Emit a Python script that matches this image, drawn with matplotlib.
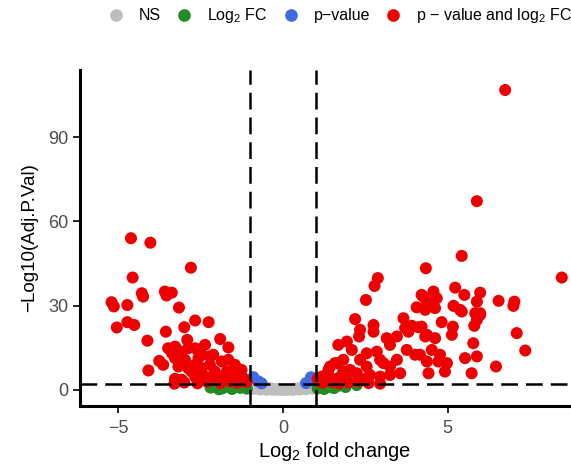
import matplotlib
matplotlib.use("Agg")
import matplotlib.pyplot as plt
from matplotlib.lines import Line2D

plt.rcParams["font.family"] = ["Liberation Sans", "DejaVu Sans"]
plt.rcParams["mathtext.fontset"] = "custom"
plt.rcParams["mathtext.rm"] = "Liberation Sans"
plt.rcParams["mathtext.it"] = "Liberation Sans:italic"

# === thresholds ===
FC_CUTOFF = 1.0
P_CUTOFF = 2.0

# === not significant (|log2FC| < 1, -log10 p < 2) ===
ns_x = [-0.98, -0.92, -0.88, -0.80, -0.75, -0.70, -0.64, -0.60, -0.55, -0.50,
        -0.45, -0.40, -0.35, -0.30, -0.25, -0.20, -0.15, -0.10, -0.05, 0.00,
        0.05, 0.10, 0.15, 0.20, 0.25, 0.30, 0.35, 0.40, 0.45, 0.50,
        0.55, 0.60, 0.65, 0.70, 0.75, 0.80, 0.85, 0.90, 0.95, 0.98,
        -0.90, -0.70, -0.50, -0.30, 0.30, 0.50, 0.70, 0.90, -0.95, 0.95]
ns_y = [1.9, 1.5, 1.2, 1.0, 0.8, 1.3, 0.6, 0.9, 0.5, 0.7,
        0.4, 0.3, 0.5, 0.2, 0.3, 0.1, 0.2, 0.1, 0.05, 0.0,
        0.1, 0.05, 0.2, 0.1, 0.3, 0.2, 0.4, 0.3, 0.5, 0.4,
        0.6, 0.8, 0.5, 1.0, 0.9, 1.2, 1.1, 1.5, 1.7, 1.9,
        0.3, 0.1, 0.0, 0.0, 0.0, 0.1, 0.2, 0.4, 0.8, 0.9]

# === fold change only ===
fc_x = [-2.20, -2.00, -1.85, -1.70, -1.55, -1.45, -1.30, -1.20, -1.10, -1.60,
        -1.95, -1.35, 1.12, 1.33, 1.53, 2.24, 1.05, 1.15, 1.25, 1.40,
        1.55, 1.70, 1.90, 1.30, 1.10]
fc_y = [0.8, 1.5, 0.5, 1.2, 0.3, 1.6, 0.7, 1.8, 0.4, 1.9,
        0.2, 1.1, 1.8, 1.9, 1.8, 1.7, 0.5, 1.2, 0.3, 1.0,
        0.6, 1.5, 1.0, 1.8, 1.6]

# === p-value only ===
p_x = [-0.90, -0.75, -0.65, 0.85, 0.92, 0.70]
p_y = [4.5, 3.0, 2.3, 4.5, 3.3, 2.4]

# === p-value and fold change ===
sig_x = [
    # down-regulated
    -4.62, -4.03, -2.80, -4.57, -4.29, -4.25, -3.59, -3.38, -3.54, -5.21,
    -5.14, -4.73, -3.16, -5.05, -4.73, -4.52, -2.67, -2.26, -3.56, -3.00,
    -4.12, -1.91, -1.66, -2.91, -4.09, -3.76, -3.64, -3.49, -3.28, -3.10,
    -2.88, -2.67, -2.37, -2.12, -3.28, -3.18, -2.98, -2.67, -2.78, -2.47,
    -2.22, -2.07, -1.86, -1.66, -1.71, -1.51, -1.31, -1.21, -3.28, -3.08,
    -2.67, -2.37, -2.07, -1.81, -2.47, -3.38, -2.57, -2.88, -1.46, -1.26,
    -2.22, -1.10, -1.25, -1.40, -1.60, -1.90, -2.30, -2.60, -3.00, -3.30,
    # up-regulated
    5.43, 4.34, 8.47, 2.88, 2.78, 2.52, 5.23, 5.99, 5.51, 4.21,
    4.57, 4.67, 4.37, 5.89, 6.55, 7.03, 7.00, 5.18, 5.38, 4.06,
    4.32, 5.99, 5.89, 2.19, 3.66, 4.82, 2.75, 2.75, 3.91, 4.11,
    3.81, 5.16, 5.13, 5.81, 7.10, 2.34, 2.31, 3.15, 3.46, 3.25,
    4.37, 4.62, 1.94, 1.68, 2.09, 5.78, 7.36, 2.54, 2.85, 2.95,
    3.76, 4.01, 4.52, 4.77, 5.53, 5.89, 4.37, 4.72, 4.98, 4.42,
    4.92, 5.73, 6.47, 2.34, 2.54, 3.05, 3.25, 3.46, 3.56, 1.43,
    1.63, 1.83, 2.04, 2.24, 2.64, 2.95, 3.25, 1.18, 1.38, 1.68,
    1.94, 2.44, 2.95, 1.58, 1.83, 1.38, 1.22, 3.71, 4.26, 4.62,
    5.43, 5.84, 5.99, 4.21, 4.32, 4.16, 1.10, 1.20, 1.35, 1.50,
    1.70, 2.00, 2.30, 2.60, 1.05, 5.89, 6.75,
]
sig_y = [
    # down-regulated
    54.0, 52.4, 43.5, 40.0, 34.4, 33.2, 35.0, 34.6, 33.6, 31.2,
    29.7, 30.2, 29.3, 22.2, 24.1, 23.1, 24.7, 24.1, 20.7, 22.3,
    17.5, 18.1, 15.1, 17.8, 6.9, 10.3, 8.9, 14.8, 15.4, 13.6,
    14.8, 14.8, 16.0, 12.5, 11.3, 8.3, 10.7, 8.9, 6.5, 7.7,
    8.9, 6.5, 10.1, 10.7, 6.5, 5.3, 5.9, 4.2, 3.9, 3.6,
    4.7, 4.7, 4.7, 4.2, 12.5, 13.1, 11.3, 7.7, 8.9, 7.1,
    11.9, 2.8, 3.3, 2.5, 3.0, 2.4, 2.9, 2.3, 2.6, 2.2,
    # up-regulated
    47.7, 43.3, 40.0, 39.8, 37.0, 32.0, 36.4, 34.6, 33.8, 33.8,
    35.0, 32.6, 31.4, 31.4, 31.7, 31.4, 29.9, 29.9, 28.5, 29.4,
    28.5, 26.7, 24.9, 25.2, 25.5, 24.1, 23.1, 20.7, 22.8, 22.3,
    20.7, 22.5, 19.6, 22.8, 20.2, 21.4, 19.0, 18.4, 19.0, 16.0,
    19.6, 18.4, 17.2, 16.0, 14.2, 16.6, 14.0, 13.0, 13.6, 10.7,
    14.2, 12.5, 14.2, 12.5, 11.3, 11.9, 10.1, 10.1, 9.5, 5.9,
    6.5, 5.9, 8.3, 10.7, 8.3, 9.5, 8.3, 10.7, 5.9, 8.3,
    9.5, 6.5, 7.1, 5.9, 5.3, 4.7, 5.3, 4.7, 5.3, 4.2,
    3.6, 3.8, 2.2, 9.5, 10.7, 7.1, 4.7, 22.0, 33.2, 29.1,
    27.9, 27.3, 27.3, 22.5, 19.0, 12.5, 3.0, 2.5, 3.5, 2.8,
    2.3, 2.6, 3.0, 2.4, 4.0, 67.2, 106.8,
]

groups = [
    ("NS", ns_x, ns_y, "#BEBEBE"),
    ("Log$_\\mathregular{2}$ FC", fc_x, fc_y, "#228B22"),
    ("p\u2212value", p_x, p_y, "#4169E1"),
    ("p \u2212 value and log$_\\mathregular{2}$ FC", sig_x, sig_y, "#EE0000"),
]

fig = plt.figure(figsize=(5.71, 4.67), dpi=100)
ax = fig.add_axes([0.140, 0.131, 0.890, 0.719])

for label, xs, ys, col in groups:
    ax.scatter(xs, ys, s=75, color=col, edgecolors="none", zorder=2)

dash = (0, (6.7, 3.2))
for xv in (-FC_CUTOFF, FC_CUTOFF):
    ax.axvline(xv, color="black", lw=1.8, linestyle=dash, zorder=3)
ax.axhline(P_CUTOFF, color="black", lw=1.8, linestyle=dash, zorder=3)

ax.set_xlim(-6.17, 9.27)
ax.set_ylim(-5.7, 113.9)
ax.set_xticks([-5, 0, 5])
ax.set_yticks([0, 30, 60, 90])
ax.set_xticklabels(["\u22125", "0", "5"])

for side in ("top", "right"):
    ax.spines[side].set_visible(False)
for side in ("left", "bottom"):
    ax.spines[side].set_linewidth(2.2)
    ax.spines[side].set_color("black")

ax.tick_params(axis="both", direction="out", length=5, width=1.2,
               color="black", labelcolor="#4D4D4D", labelsize=13)
ax.tick_params(axis="x", pad=5)
ax.tick_params(axis="y", pad=3)

ax.set_xlabel("Log$_\\mathregular{2}$ fold change", fontsize=14.5)
ax.set_ylabel("\u2212Log10(Adj.P.Val)", fontsize=13.5)
ax.xaxis.set_label_coords(0.5, -0.102)
ax.yaxis.set_label_coords(-0.083, 0.5)

handles = [Line2D([], [], marker="o", linestyle="none", markersize=9.1,
                  markerfacecolor=col, markeredgecolor="none")
           for _, _, _, col in groups]
labels = [g[0] for g in groups]
fig.legend(handles, labels, loc="center left", bbox_to_anchor=(0.189, 0.966),
           ncol=4, frameon=False, fontsize=11.5, handlelength=1.0,
           handletextpad=0.94, columnspacing=0.94, borderpad=0, borderaxespad=0)

fig.savefig("out.png", dpi=100)
